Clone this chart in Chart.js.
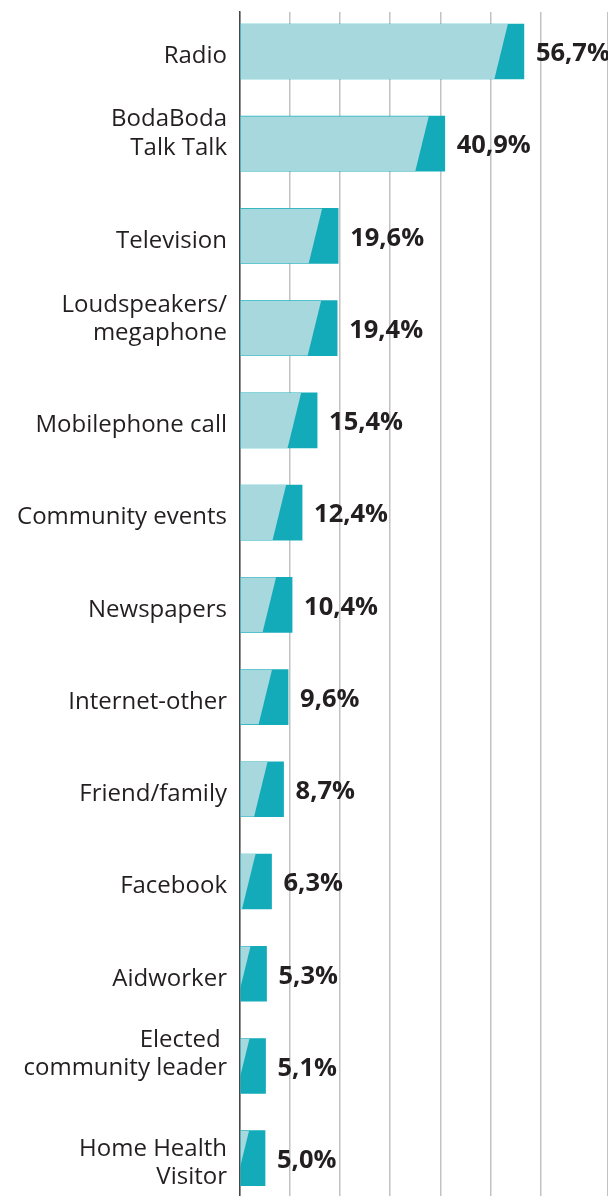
<!DOCTYPE html>
<html>
<head>
<meta charset="utf-8">
<script src="https://cdn.jsdelivr.net/npm/chart.js@4/dist/chart.umd.min.js"></script>
<style>
  html, body { margin: 0; padding: 0; background: #ffffff; }
  #wrap { width: 608px; height: 1196px; }
  canvas { display: block; }
</style>
</head>
<body>
<div id="wrap"><canvas id="chart" width="608" height="1196"></canvas></div>
<script>
// Information sources, share of respondents (%)
const categories = [
  ['Radio'],
  ['BodaBoda', 'Talk Talk'],
  ['Television'],
  ['Loudspeakers/', 'megaphone'],
  ['Mobilephone call'],
  ['Community events'],
  ['Newspapers'],
  ['Internet-other'],
  ['Friend/family'],
  ['Facebook'],
  ['Aidworker'],
  ['Elected ', 'community leader'],
  ['Home Health', 'Visitor']
];
const shares = [56.7, 40.9, 19.6, 19.4, 15.4, 12.4, 10.4, 9.6, 8.7, 6.3, 5.3, 5.1, 5.0];
const gridStep = 10;

// layout: visible row range (row units) and vertical nudge of each row label (px)
const ROW_MIN = -0.428;
const ROW_MAX = 12.41;
const PAD_TOP = 12;
const labelNudge = [5, -10, 5, -9, 5, 5, 5, 5, 5, 5, 5, -12, 5];

const LIGHT = '#a7d8de';
const DARK = '#13abb9';
const INK = '#231f20';

const fmt = v => v.toFixed(1).replace('.', ',') + '%';

// Pale body of each bar with a slanted cut, leaving a dark tip; value label beside it
const twoTone = {
  id: 'twoTone',
  afterDatasetsDraw(chart) {
    const ctx = chart.ctx;
    const meta = chart.getDatasetMeta(0);
    meta.data.forEach((bar, i) => {
      const p = bar.getProps(['x', 'y', 'base', 'height'], true);
      const top = p.y - p.height / 2;
      const bottom = p.y + p.height / 2;
      ctx.save();
      ctx.beginPath();
      ctx.rect(p.base, top, p.x - p.base, p.height);
      ctx.clip();
      ctx.fillStyle = LIGHT;
      ctx.beginPath();
      ctx.moveTo(p.base - 60, top);
      ctx.lineTo(p.x - 16, top);
      ctx.lineTo(p.x - 29.5, bottom);
      ctx.lineTo(p.base - 60, bottom);
      ctx.closePath();
      ctx.fill();
      ctx.restore();

      ctx.save();
      ctx.fillStyle = INK;
      ctx.font = 'bold 25.5px "Open Sans"';
      ctx.textAlign = 'left';
      ctx.textBaseline = 'middle';
      ctx.fillText(fmt(shares[i]), p.x + 12, p.y + 2.5);
      ctx.restore();
    });
  }
};

new Chart(document.getElementById('chart'), {
  type: 'bar',
  data: {
    datasets: [{
      data: shares.map((v, i) => ({ x: v, y: i })),
      backgroundColor: DARK,
      borderWidth: 0,
      barThickness: 55
    }]
  },
  options: {
    indexAxis: 'y',
    responsive: false,
    devicePixelRatio: 1,
    animation: false,
    layout: { autoPadding: false, padding: { top: PAD_TOP, right: 0, bottom: 0, left: 0 } },
    plugins: { legend: { display: false }, tooltip: { enabled: false } },
    scales: {
      x: {
        type: 'linear',
        position: 'top',
        min: 0,
        max: 73.5,
        ticks: { display: false, stepSize: gridStep },
        grid: { color: '#c2c2c2', lineWidth: 1.5, drawTicks: false },
        border: { display: false }
      },
      y: {
        type: 'linear',
        reverse: true,
        offset: false,
        min: ROW_MIN,
        max: ROW_MAX,
        z: 1,
        afterBuildTicks: s => {
          const rowPx = (s.chart.height - PAD_TOP) / (ROW_MAX - ROW_MIN);
          s.ticks = categories.map((_, i) => ({ value: i + labelNudge[i] / rowPx }));
          s.min = ROW_MIN;
          s.max = ROW_MAX;
        },
        afterFit: s => {
          s.width = 240;
          s.paddingTop = 0;
          s.paddingBottom = 0;
        },
        ticks: {
          autoSkip: false,
          padding: 13,
          color: INK,
          font: { family: '"Open Sans"', size: 24, lineHeight: 1.19 },
          callback: (v, i) => categories[i]
        },
        grid: { display: false, drawTicks: false, offset: false },
        border: { display: true, color: '#4d4545', width: 1.5 }
      }
    }
  },
  plugins: [twoTone]
});
</script>
</body>
</html>
